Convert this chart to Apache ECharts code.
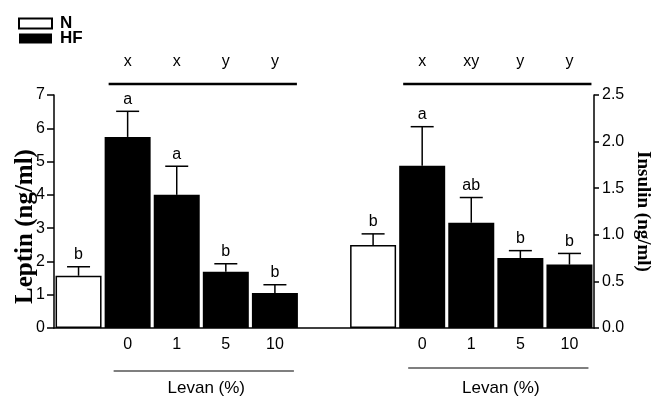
<!DOCTYPE html>
<html>
<head>
<meta charset="utf-8">
<script src="https://cdn.jsdelivr.net/npm/echarts@6/dist/echarts.min.js"></script>
<style>html,body{margin:0;background:#fff}#main{width:652px;height:399px}</style>
</head>
<body>
<div id="main"></div>
<script>
var chartDom = document.getElementById('main');
var myChart = echarts.init(chartDom);
var option;

// groups: N diet, then HF diet with 0/1/5/10 % levan
const groups = ['N', '0', '1', '5', '10'];
const leptinMean = [1.57, 5.74, 4.0, 1.69, 1.05];
const leptinErr = [0.27, 0.77, 0.86, 0.24, 0.25];
const leptinLetters = ['b', 'a', 'a', 'b', 'b'];
const leptinGroupLetters = ['', 'x', 'x', 'y', 'y'];
const insulinMean = [0.89, 1.74, 1.13, 0.75, 0.68];
const insulinErr = [0.12, 0.42, 0.27, 0.08, 0.12];
const insulinLetters = ['b', 'a', 'ab', 'b', 'b'];
const insulinGroupLetters = ['', 'x', 'xy', 'y', 'y'];
const groupTitle = 'Levan (%)';

// one shared category axis: leptin groups, a spacer, insulin groups
const categories = groups.concat([' '], groups);
const topLabels = leptinGroupLetters.concat([''], insulinGroupLetters);
const off = groups.length + 1;

const leptinN = categories.map((c, i) => (i === 0 ? leptinMean[0] : '-'));
const leptinHF = categories.map((c, i) => (i >= 1 && i < groups.length ? leptinMean[i] : '-'));
const insulinN = categories.map((c, i) => (i === off ? insulinMean[0] : '-'));
const insulinHF = categories.map((c, i) => (i > off ? insulinMean[i - off] : '-'));

const leptinBars = leptinMean.map((m, i) => [i, m, leptinErr[i]]);
const insulinBars = insulinMean.map((m, i) => [i + off, m, insulinErr[i]]);
const hfRanges = [[1, groups.length - 1], [off + 1, off + groups.length - 1]];

const sans = '"Liberation Sans", Arial, sans-serif';
const black = '#000';

function errorItem(letters) {
  return function (params, api) {
    const x = api.value(0);
    const m = api.value(1);
    const s = api.value(2);
    const top = api.coord([x, m + s]);
    const bot = api.coord([x, m]);
    const cap = 11.5;
    return {
      type: 'group',
      children: [
        { type: 'line', shape: { x1: top[0], y1: bot[1], x2: top[0], y2: top[1] }, style: { stroke: black, lineWidth: 1.5 } },
        { type: 'line', shape: { x1: top[0] - cap, y1: top[1], x2: top[0] + cap, y2: top[1] }, style: { stroke: black, lineWidth: 1.5 } },
        { type: 'text', x: top[0], y: top[1] - 4, style: { text: letters[params.dataIndex], fontSize: 16, fontFamily: sans, fill: black, align: 'center', verticalAlign: 'bottom' } }
      ]
    };
  };
}

function bracketItem(params, api) {
  const a = api.coord([api.value(0), 0])[0];
  const b = api.coord([api.value(1), 0])[0];
  const cs = params.coordSys;
  const gridTop = cs.y;
  const gridBot = cs.y + cs.height;
  const lowY = params.dataIndex === 0 ? gridBot + 43 : gridBot + 40;
  return {
    type: 'group',
    children: [
      { type: 'line', shape: { x1: a - 19, y1: gridTop - 11, x2: b + 22, y2: gridTop - 11 }, style: { stroke: black, lineWidth: 2.5 } },
      { type: 'line', shape: { x1: a - 14, y1: lowY, x2: b + 19, y2: lowY }, style: { stroke: black, lineWidth: 1.2 } },
      { type: 'text', x: (a + b) / 2 + 5, y: gridBot + 60, style: { text: groupTitle, fontSize: 17, fontFamily: sans, fill: black, align: 'center', verticalAlign: 'middle' } }
    ]
  };
}

const barCommon = { type: 'bar', barWidth: 46, barGap: '-100%', silent: true };

option = {
  animation: false,
  backgroundColor: '#fff',
  legend: {
    orient: 'vertical',
    left: 18,
    top: 15,
    padding: 0,
    itemWidth: 33,
    itemHeight: 10,
    itemGap: -2,
    icon: 'rect',
    data: ['N', 'HF'],
    textStyle: { fontFamily: sans, fontWeight: 'bold', fontSize: 17, color: black, padding: [0, 0, 0, 3] }
  },
  grid: { left: 54, right: 58, top: 95, bottom: 71, containLabel: false, outerBoundsMode: 'none' },
  xAxis: [
    {
      type: 'category',
      data: categories,
      position: 'bottom',
      axisLine: { lineStyle: { color: black, width: 1.5 } },
      axisTick: { show: false },
      axisLabel: { interval: 0, margin: 9, color: black, fontSize: 16, fontFamily: sans, formatter: (v) => (v === 'N' ? '' : v) }
    },
    {
      type: 'category',
      data: categories,
      position: 'top',
      axisLine: { show: false },
      axisTick: { show: false },
      axisLabel: { interval: 0, margin: 25, color: black, fontSize: 16, fontFamily: sans, formatter: (v, i) => topLabels[i] }
    }
  ],
  yAxis: [
    {
      type: 'value',
      position: 'left',
      min: 0,
      max: 7,
      interval: 1,
      name: 'Leptin (ng/ml)',
      nameLocation: 'middle',
      nameRotate: 90,
      nameGap: 16,
      nameMoveOverlap: false,
      nameTextStyle: { fontFamily: '"Liberation Serif", serif', fontWeight: 'bold', fontSize: 25, color: black, padding: [0, 30, 0, 0] },
      axisLine: { show: true, lineStyle: { color: black, width: 1.5 } },
      axisTick: { show: true, length: 7, lineStyle: { color: black, width: 1.5 } },
      axisLabel: { color: black, fontSize: 16, fontFamily: sans, margin: 9 },
      splitLine: { show: false }
    },
    {
      type: 'value',
      position: 'right',
      min: 0,
      max: 2.5,
      interval: 0.5,
      name: 'Insulin (ng/ml)',
      nameLocation: 'middle',
      nameRotate: -90,
      nameGap: 39,
      nameMoveOverlap: false,
      nameTextStyle: { fontFamily: '"Liberation Serif", serif', fontWeight: 'bold', fontSize: 19, color: black },
      axisLine: { show: true, lineStyle: { color: black, width: 1.5 } },
      axisTick: { show: true, length: 5, lineStyle: { color: black, width: 1.5 } },
      axisLabel: { color: black, fontSize: 16, fontFamily: sans, margin: 8, formatter: (v) => v.toFixed(1) },
      splitLine: { show: false }
    }
  ],
  series: [
    Object.assign({ name: 'N', data: leptinN, yAxisIndex: 0, itemStyle: { color: '#fff', borderColor: black, borderWidth: 1.5 } }, barCommon),
    Object.assign({ name: 'HF', data: leptinHF, yAxisIndex: 0, itemStyle: { color: black } }, barCommon),
    Object.assign({ name: 'N', data: insulinN, yAxisIndex: 1, itemStyle: { color: '#fff', borderColor: black, borderWidth: 1.5 } }, barCommon),
    Object.assign({ name: 'HF', data: insulinHF, yAxisIndex: 1, itemStyle: { color: black } }, barCommon),
    { type: 'custom', yAxisIndex: 0, data: leptinBars, renderItem: errorItem(leptinLetters), z: 5, silent: true },
    { type: 'custom', yAxisIndex: 1, data: insulinBars, renderItem: errorItem(insulinLetters), z: 5, silent: true },
    { type: 'custom', yAxisIndex: 0, data: hfRanges, renderItem: bracketItem, z: 5, silent: true }
  ]
};

option && myChart.setOption(option);
</script>
</body>
</html>
